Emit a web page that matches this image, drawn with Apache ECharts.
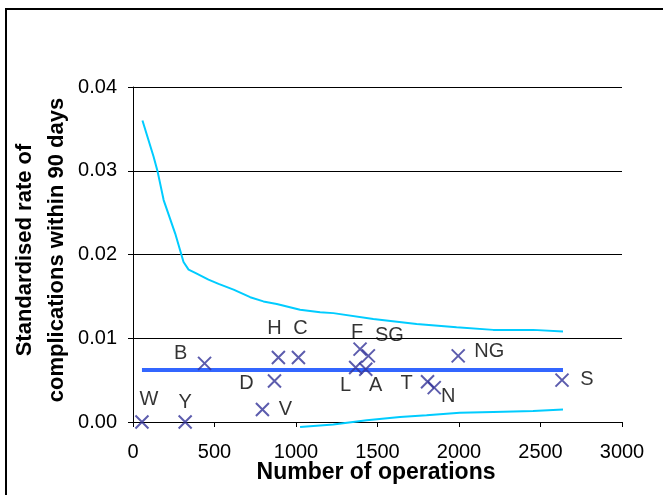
<!DOCTYPE html>
<html>
<head>
    <meta charset="utf-8">
    <title>Complications funnel plot</title>
    <script src="https://cdn.jsdelivr.net/npm/echarts@6/dist/echarts.min.js"></script>
    <style>
        html, body { margin: 0; padding: 0; background: #fff; }
    </style>
</head>
<body>
<div id="main" style="width: 663px;height:495px;"></div>
<script type="text/javascript">
    // units: name, number of operations, standardised rate, label offset [dx, dy]
    var unitNames = ['W', 'Y', 'B', 'V', 'D', 'H', 'C', 'L', 'F', 'A', 'SG', 'T', 'N', 'NG', 'S'];
    var unitOps   = [55, 320, 439, 794, 868, 892, 1015, 1366, 1393, 1428, 1444, 1807, 1848, 1995, 2632];
    var unitRates = [0, 0, 0.0070, 0.0015, 0.0049, 0.0077, 0.0077, 0.0065, 0.0087, 0.0063, 0.0079, 0.0048, 0.0041, 0.0079, 0.0050];
    var labelOffsets = [[7, -23], [0, -20], [-24, -10], [23, 0], [-28, 3], [-4, -29], [2, -29],
                        [-10, 18], [-3, -17], [10, 16], [21, -20], [-21, 2], [14, 9], [31, -4], [25, -1]];

    // overall mean rate
    var meanRate = 0.0062;
    var meanRange = [55, 2638];

    // upper control limit
    var upperOps   = [58, 126, 151, 188, 259, 310, 341, 382, 463, 525, 617, 719, 800, 882, 1025, 1148, 1229, 1474, 1740, 1985, 2210, 2455, 2638];
    var upperRates = [0.0360, 0.0317, 0.0299, 0.0265, 0.0225, 0.0191, 0.0182, 0.0178, 0.0170, 0.0165, 0.0158, 0.0149, 0.0144, 0.0141, 0.0134, 0.0131, 0.0130, 0.0123, 0.0117, 0.0113, 0.0110, 0.0110, 0.0108];

    // lower control limit
    var lowerOps   = [1025, 1229, 1434, 1638, 1801, 2005, 2210, 2455, 2638];
    var lowerRates = [-0.0006, -0.0003, 0.0002, 0.0006, 0.0008, 0.0011, 0.0012, 0.0013, 0.0015];

    var myChart = echarts.init(document.getElementById('main'));

    var pointData = unitNames.map(function (n, i) {
        return {
            value: [unitOps[i], unitRates[i]],
            name: n,
            label: { offset: labelOffsets[i] }
        };
    });

    var txt = '#000';
    var font = '"Liberation Sans", Arial, sans-serif';

    var option = {
        animation: false,
        backgroundColor: '#fff',
        textStyle: { fontFamily: font },
        graphic: [{
            type: 'rect',
            shape: { x: 6, y: 9, width: 720, height: 600 },
            style: { fill: 'none', stroke: '#000', lineWidth: 2 },
            z: -1
        }, {
            type: 'text',
            x: 376, y: 473,
            style: {
                text: 'Number of operations', font: 'bold 23px ' + font, fill: txt,
                align: 'center', verticalAlign: 'middle'
            }
        }, {
            type: 'text',
            x: 41, y: 250, rotation: Math.PI / 2,
            style: {
                text: 'Standardised rate of\ncomplications within 90 days',
                font: 'bold 22px ' + font, fill: txt,
                align: 'center', verticalAlign: 'middle', lineHeight: 32
            }
        }],
        grid: { left: 133, right: 41, top: 87, bottom: 73 },
        xAxis: {
            type: 'value', min: 0, max: 3000, interval: 500,
            axisLine: { show: true, lineStyle: { color: '#000' } },
            axisTick: { show: true, length: 5, lineStyle: { color: '#000' } },
            axisLabel: {
                color: txt, fontSize: 20, margin: 20, fontFamily: font,
                formatter: function (v) { return String(v); }
            },
            splitLine: { show: false }
        },
        yAxis: {
            type: 'value', min: 0, max: 0.04, interval: 0.01,
            axisLine: { show: true, lineStyle: { color: '#000' } },
            axisTick: { show: true, length: 5, lineStyle: { color: '#000' } },
            axisLabel: {
                color: txt, fontSize: 20, margin: 16, fontFamily: font,
                formatter: function (v) { return v.toFixed(2); }
            },
            splitLine: { show: true, lineStyle: { color: '#000', width: 1 } }
        },
        series: [{
            name: 'upper',
            type: 'line',
            data: upperOps.map(function (x, i) { return [x, upperRates[i]]; }),
            showSymbol: false,
            lineStyle: { color: '#00CCFF', width: 2 },
            z: 2
        }, {
            name: 'lower',
            type: 'line',
            clip: false,
            data: lowerOps.map(function (x, i) { return [x, lowerRates[i]]; }),
            showSymbol: false,
            lineStyle: { color: '#00CCFF', width: 2 },
            z: 2
        }, {
            name: 'mean',
            type: 'line',
            data: [[meanRange[0], meanRate], [meanRange[1], meanRate]],
            showSymbol: false,
            lineStyle: { color: '#3366FF', width: 4 },
            z: 3
        }, {
            name: 'units',
            type: 'scatter',
            clip: false,
            data: pointData,
            symbol: 'path://M0,0 L10,10 M10,0 L0,10',
            symbolSize: 13,
            itemStyle: { color: 'none', borderColor: '#333399', borderWidth: 2 },
            label: {
                show: true, position: 'inside', color: txt, fontSize: 20,
                fontFamily: font,
                formatter: function (p) { return p.name; }
            },
            z: 4
        }]
    };

    myChart.setOption(option);
</script>
</body>
</html>
